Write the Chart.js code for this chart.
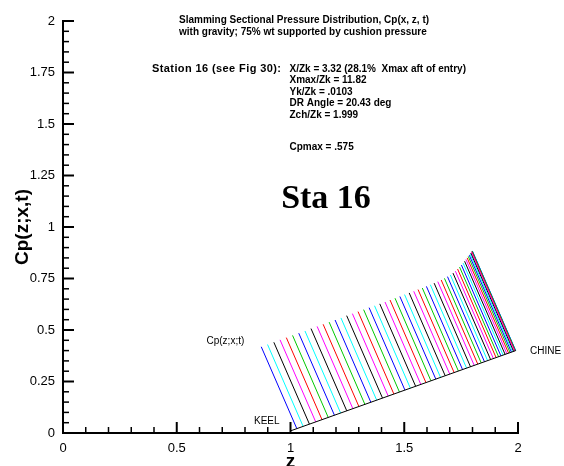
<!DOCTYPE html>
<html>
<head>
<meta charset="utf-8">
<script src="https://cdn.jsdelivr.net/npm/chart.js@4.4.1/dist/chart.umd.min.js"></script>
<style>
html,body{margin:0;padding:0;background:#ffffff;}
#wrap{width:564px;height:466px;position:relative;}
</style>
</head>
<body>
<div id="wrap"><canvas id="c" width="564" height="466"></canvas></div>
<script>
// ---- data ----
// z position (along the hull, keel -> chine) of each pressure vector foot
const footZ = [1.0278,1.0555,1.0832,1.1108,1.1384,1.1658,1.1931,1.2203,1.2473,1.2741,
  1.3006,1.3270,1.3531,1.3789,1.4044,1.4295,1.4544,1.4789,1.5030,1.5268,
  1.5500,1.5729,1.5953,1.6173,1.6387,1.6596,1.6800,1.7000,1.7192,1.7380,
  1.7563,1.7740,1.7911,1.8075,1.8232,1.8383,1.8527,1.8664,1.8795,1.8918,
  1.9037,1.9146,1.9249,1.9345,1.9433,1.9513,1.9586,1.9652,1.9710,1.9760,
  1.9803,1.9838,1.9865,1.9885,1.9896,1.9900];
// pressure coefficient (vector length) at each foot
const cpValues = [0.427,0.427,0.427,0.428,0.428,0.428,0.428,0.428,0.429,0.429,
  0.429,0.429,0.429,0.429,0.430,0.430,0.430,0.430,0.430,0.430,
  0.430,0.430,0.431,0.431,0.431,0.432,0.432,0.432,0.433,0.433,
  0.434,0.435,0.436,0.437,0.439,0.441,0.444,0.447,0.451,0.456,
  0.462,0.468,0.474,0.480,0.486,0.492,0.497,0.502,0.506,0.510,
  0.513,0.516,0.518,0.519,0.520,0.520];
// hull section line (keel -> chine)
const hullZ = [1.0, 1.99];
const hullY = [0.0103, 0.40];
const xTickValues = [0, 0.5, 1, 1.5, 2];
const yTickValues = [0, 0.25, 0.5, 0.75, 1, 1.25, 1.5, 1.75, 2];
const vectorColors = ['#0000ff','#00ffff','#000000','#ff00ff','#ff0000','#00c800'];
const titleLines = ['Slamming Sectional Pressure Distribution, Cp(x, z, t)',
                    'with gravity; 75% wt supported by cushion pressure'];
const stationLabel = 'Station 16 (see Fig 30):';
const infoLines = ['X/Zk = 3.32 (28.1%  Xmax aft of entry)','Xmax/Zk = 11.82','Yk/Zk = .0103',
                   'DR Angle = 20.43 deg','Zch/Zk = 1.999'];
const cpmaxLabel = 'Cpmax = .575';
const stationTag = 'Sta 16';

// ---- build datasets ----
const slope = (hullY[1]-hullY[0])/(hullZ[1]-hullZ[0]);
const ang = Math.atan(slope);
const nx = -Math.sin(ang), ny = Math.cos(ang);
const datasets = [{
  label:'hull',
  data: hullZ.map((z,i)=>({x:z,y:hullY[i]})),
  borderColor:'#000000', borderWidth:1, pointRadius:0, showLine:true, fill:false
}];
footZ.forEach((z,i)=>{
  const y = hullY[0] + (z-hullZ[0])*slope;
  const cp = cpValues[i];
  datasets.push({
    label:'v'+i,
    data:[{x:z,y:y},{x:z+nx*cp,y:y+ny*cp}],
    borderColor: vectorColors[i%vectorColors.length],
    borderWidth:1, pointRadius:0, showLine:true, fill:false
  });
});

const FONT = "'Liberation Sans', Arial, Helvetica, sans-serif";

const innerTicks = {
  id:'innerTicks',
  afterDatasetsDraw(chart){
    const ctx = chart.ctx, xs = chart.scales.x, ys = chart.scales.y;
    const ca = chart.chartArea;
    ctx.save();
    ctx.strokeStyle = '#000';
    for (let k=0;k<=20;k++){
      const v = k/10, major = (k%5===0);
      const px = xs.getPixelForValue(v);
      ctx.lineWidth = major?2:1.5;
      ctx.beginPath();
      ctx.moveTo(px, ca.bottom);
      ctx.lineTo(px, ca.bottom-(major?11:6));
      ctx.stroke();
    }
    for (let k=0;k<=40;k++){
      const v = k/20, major = (k%5===0);
      const py = ys.getPixelForValue(v);
      ctx.lineWidth = major?2:1.5;
      ctx.beginPath();
      ctx.moveTo(ca.left, py);
      ctx.lineTo(ca.left+(major?11:6), py);
      ctx.stroke();
    }
    ctx.restore();
  }
};

const annotations = {
  id:'annotations',
  afterDraw(chart){
    const ctx = chart.ctx;
    ctx.save();
    ctx.fillStyle = '#000';
    ctx.textAlign = 'left';
    ctx.textBaseline = 'alphabetic';
    ctx.font = 'bold 10px ' + FONT;
    ctx.fillText(titleLines[0], 179, 23);
    ctx.fillText(titleLines[1], 179, 34.5);
    ctx.font = 'bold 11px ' + FONT;
    try { ctx.letterSpacing = '0.4px'; } catch(e) {}
    ctx.fillText(stationLabel, 152, 72);
    try { ctx.letterSpacing = '0px'; } catch(e) {}
    ctx.font = 'bold 10px ' + FONT;
    const ib = [71.5, 83, 94.5, 106, 117.5];
    infoLines.forEach((t,i)=>ctx.fillText(t, 289.5, ib[i]));
    ctx.fillText(cpmaxLabel, 289.5, 150);
    ctx.font = "bold 34px 'Liberation Serif', 'Times New Roman', serif";
    ctx.textAlign = 'center';
    ctx.fillText(stationTag, 326, 207.5);
    ctx.textAlign = 'left';
    ctx.font = '10px ' + FONT;
    ctx.fillText('Cp(z;x;t)', 206.5, 344);
    ctx.fillText('KEEL', 254, 423.5);
    ctx.fillText('CHINE', 530, 354);
    ctx.restore();
  }
};

const fmt = v => String(Number(v));

new Chart(document.getElementById('c'), {
  type:'scatter',
  data:{datasets},
  options:{
    responsive:false,
    devicePixelRatio:1,
    animation:false,
    events:[],
    layout:{padding:{left:0,right:46,top:21,bottom:0}},
    plugins:{legend:{display:false},tooltip:{enabled:false},title:{display:false}},
    scales:{
      x:{
        type:'linear', min:0, max:2,
        afterFit(s){ s.height = 33; },
        afterBuildTicks(s){ s.ticks = xTickValues.map(v=>({value:v})); },
        grid:{drawOnChartArea:false, drawTicks:false},
        border:{display:true, color:'#000', width:2},
        ticks:{color:'#000', font:{family:FONT, size:13}, padding:8, maxRotation:0, autoSkip:false, callback:fmt},
        title:{display:true, text:'z', color:'#000', font:{family:FONT, size:19, weight:'bold', lineHeight:0.4}, padding:0}
      },
      y:{
        type:'linear', min:0, max:2,
        afterFit(s){ s.width = 63; },
        afterBuildTicks(s){ s.ticks = yTickValues.map(v=>({value:v})); },
        grid:{drawOnChartArea:false, drawTicks:false},
        border:{display:true, color:'#000', width:2},
        ticks:{color:'#000', font:{family:FONT, size:13}, padding:8, autoSkip:false, callback:fmt},
        title:{display:true, text:'Cp(z;x,t)', color:'#000', font:{family:FONT, size:19, weight:'bold', lineHeight:1.2}, padding:{top:11,bottom:0}}
      }
    }
  },
  plugins:[innerTicks, annotations]
});
</script>
</body>
</html>
